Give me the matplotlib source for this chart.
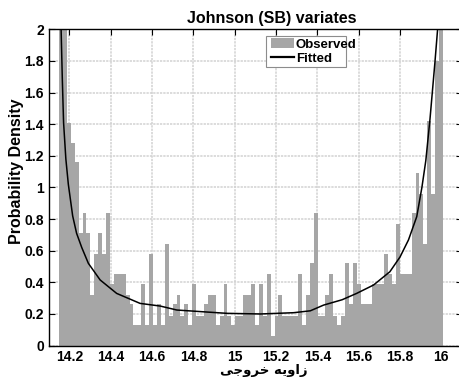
import matplotlib
matplotlib.use("Agg")
import matplotlib.pyplot as plt
import numpy as np
from matplotlib.patches import Patch, Rectangle
from matplotlib.lines import Line2D

plt.rcParams['font.family'] = ['Liberation Sans', 'DejaVu Sans']
plt.rcParams['font.weight'] = 'bold'

# histogram (density), 98 equal bins
hist_lo, hist_hi = 14.150, 16.008
density = [3.2, 2.5, 1.41, 1.28, 1.16, 0.71, 0.84, 0.71, 0.32, 0.58,
           0.71, 0.58, 0.84, 0.39, 0.45, 0.45, 0.45, 0.32, 0.26, 0.13,
           0.13, 0.39, 0.13, 0.58, 0.13, 0.26, 0.13, 0.64, 0.19, 0.26,
           0.32, 0.19, 0.26, 0.13, 0.39, 0.19, 0.19, 0.26, 0.32, 0.32,
           0.13, 0.19, 0.39, 0.19, 0.13, 0.19, 0.19, 0.32, 0.32, 0.39,
           0.13, 0.39, 0.19, 0.45, 0.06, 0.19, 0.32, 0.19, 0.19, 0.19,
           0.19, 0.45, 0.13, 0.32, 0.52, 0.84, 0.19, 0.19, 0.32, 0.45,
           0.19, 0.13, 0.19, 0.52, 0.26, 0.52, 0.39, 0.26, 0.26, 0.26,
           0.39, 0.39, 0.39, 0.58, 0.45, 0.39, 0.77, 0.45, 0.45, 0.45,
           0.84, 1.09, 0.96, 0.64, 1.42, 0.96, 1.80, 3.0]

# fitted Johnson SB curve
fit_x = [14.156, 14.160, 14.166, 14.172, 14.183, 14.195, 14.216, 14.235,
         14.260, 14.292, 14.349, 14.429, 14.542, 14.640, 14.720, 14.834,
         14.963, 15.124, 15.285, 15.366, 15.430, 15.520, 15.590, 15.672,
         15.751, 15.800, 15.841, 15.881, 15.906, 15.925, 15.945, 15.969,
         15.982, 15.986]
fit_y = [2.3, 2.0, 1.68, 1.41, 1.18, 1.02, 0.82, 0.71, 0.62, 0.52, 0.415,
         0.33, 0.267, 0.25, 0.225, 0.215, 0.204, 0.200, 0.208, 0.22, 0.256,
         0.29, 0.33, 0.383, 0.467, 0.56, 0.668, 0.815, 1.0, 1.17, 1.43,
         1.79, 2.0, 2.3]

xticks = [14.2, 14.4, 14.6, 14.8, 15, 15.2, 15.4, 15.6, 15.8, 16]
xticklabels = ['14.2', '14.4', '14.6', '14.8', '15', '15.2', '15.4', '15.6', '15.8', '16']
yticks = [0, 0.2, 0.4, 0.6, 0.8, 1, 1.2, 1.4, 1.6, 1.8, 2]
yticklabels = ['0', '0.2', '0.4', '0.6', '0.8', '1', '1.2', '1.4', '1.6', '1.8', '2']

# "زاویه خروجی" written in joined presentation forms, visual order
xlabel = "\ufef0\ufe9f\ufeed\ufeae\ufea7 \ufeea\ufef3\ufeed\ufe8d\ufeaf"

bar_color = '#a6a6a6'

fig = plt.figure(figsize=(4.59, 3.78), dpi=100)
ax = fig.add_axes([0.1061, 0.0857, 0.9004, 0.8368])

edges = np.linspace(hist_lo, hist_hi, len(density) + 1)
ax.stairs(density, edges, fill=True, color=bar_color, linewidth=0, zorder=2)
ax.plot(fit_x, fit_y, color='black', linewidth=1.1, zorder=3)

ax.set_xlim(14.1, 16.1)
ax.set_ylim(0, 2)
ax.set_xticks(xticks)
ax.set_xticklabels(xticklabels)
ax.set_yticks(yticks)
ax.set_yticklabels(yticklabels)
ax.tick_params(direction='in', top=True, right=True, length=4, width=0.8,
               labelsize=10, colors='black')
ax.tick_params(axis='x', pad=3.5)
ax.tick_params(axis='y', pad=3.5)

ax.set_axisbelow(True)
ax.grid(True, color='#d2d2d2', linestyle=(0, (1.5, 0.7)), linewidth=1.1)
for s in ax.spines.values():
    s.set_linewidth(1.0)

ax.set_title('Johnson (SB) variates', fontsize=11.5, fontweight='bold',
             x=0.54, pad=4.5)
ax.set_ylabel('Probability Density', fontsize=11.5, fontweight='bold')
ax.yaxis.set_label_coords(-0.06, 0.55)
ax.set_xlabel(xlabel, fontsize=9.5, fontweight='bold', family=['DejaVu Sans'])
ax.xaxis.set_label_coords(0.521, -0.058)

# legend frame (text runs past the box like the original)
ax.add_patch(Rectangle((266.3 / 459, 1 - 66.7 / 378), 80 / 459, 30.7 / 378,
                       transform=fig.transFigure, facecolor='white',
                       edgecolor='#8c8c8c', linewidth=0.8, zorder=4))
handles = [Patch(facecolor=bar_color, edgecolor='none'),
           Line2D([], [], color='black', linewidth=1.6)]
leg = ax.legend(handles, ['Observed', 'Fitted'], loc='upper left',
                bbox_to_anchor=(270.7 / 459, 1 - 38.5 / 378),
                bbox_transform=fig.transFigure, frameon=False,
                fontsize=9.5, handlelength=1.75, handleheight=0.75,
                handletextpad=0.15, labelspacing=0.1, borderpad=0,
                borderaxespad=0)
leg.set_zorder(5)
for t in leg.get_texts():
    t.set_fontweight('bold')

fig.savefig('out.png', dpi=100)
